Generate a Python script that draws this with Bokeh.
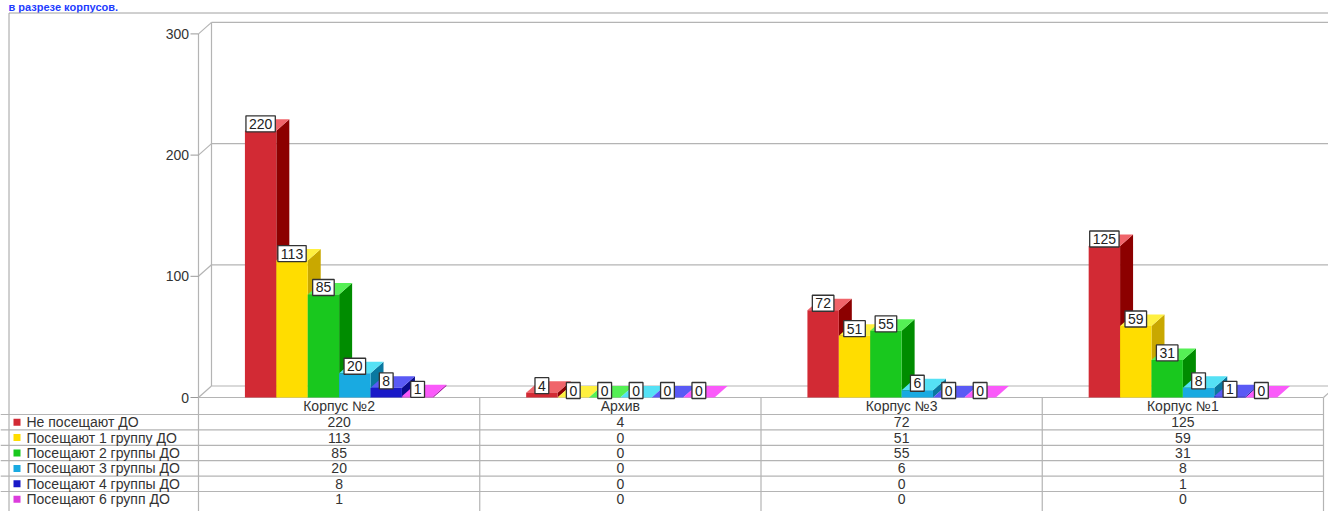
from bokeh.plotting import figure
from bokeh.models import Range1d, ColumnDataSource
from bokeh.embed import file_html
from bokeh.resources import INLINE
from bokeh.core.properties import value

# ---------------- data ----------------
title_text = "в разрезе корпусов."
categories = ["Корпус №2", "Архив", "Корпус №3", "Корпус №1"]
series_names = ["Не посещают ДО", "Посещают 1 группу ДО", "Посещают 2 группы ДО",
                "Посещают 3 группы ДО", "Посещают 4 группы ДО", "Посещают 6 групп ДО"]
not_attending = [220, 4, 72, 125]
one_group = [113, 0, 51, 59]
two_groups = [85, 0, 55, 31]
three_groups = [20, 0, 6, 8]
four_groups = [8, 0, 0, 1]
six_groups = [1, 0, 0, 0]
y_ticks = [0, 100, 200, 300]

front_colors = ["#D22A34", "#FFDD00", "#19C81E", "#19AAE1", "#1919C8", "#DC3CDC"]
side_colors = ["#8C0000", "#C9A800", "#008C00", "#0A78A0", "#0A0A8C", "#9A009A"]
top_colors = ["#F0646A", "#FFF040", "#55F055", "#55E1F5", "#5A5AF5", "#FA5AFA"]

all_series = [not_attending, one_group, two_groups, three_groups, four_groups, six_groups]

# ---------------- geometry ----------------
W, H = 1328, 511
KX = 281.25          # px per category
KY = 1.212           # px per value unit
X0 = 198             # screen x of category boundary 0
Y0 = 397             # screen y (from top) of value 0
PXX = 1.0 / KX
PXY = 1.0 / KY
x_start = -X0 * PXX
x_end = x_start + W * PXX
y_end = Y0 * PXY
y_start = -(H - Y0) * PXY

DX = 13 * PXX
DY = 11.5 * PXY
BW = 31.4 * PXX
ncat = len(categories)
nser = len(series_names)

p = figure(width=W, height=H, output_backend="svg", toolbar_location=None,
           x_range=Range1d(x_start, x_end), y_range=Range1d(y_start, y_end),
           x_axis_type=None, y_axis_type=None, min_border=0)
p.grid.visible = False
p.outline_line_color = None
p.background_fill_color = "white"
p.border_fill_color = "white"

GRID = "#B4B4B4"
TXT = "#333333"
FONT = value("Liberation Sans")

# title at the very top
p.text(x=[x_start + 8 * PXX], y=[y_end - 0.5 * PXY], text=[title_text], text_align="left",
       text_baseline="top", text_font=FONT, text_font_size="11px",
       text_font_style="bold", text_color="#1E3CFF")

# outer border
bx = x_start + 8.5 * PXX
by = y_end - 12.5 * PXY
p.segment(x0=[bx, bx], y0=[by, by], x1=[bx, x_end + 1], y1=[y_start - 1, by],
          line_color="#A0A0A0", line_width=1)

# back wall gridlines
top = y_ticks[-1]
p.segment(x0=[DX] * len(y_ticks), y0=[t + DY for t in y_ticks],
          x1=[x_end + 1] * len(y_ticks), y1=[t + DY for t in y_ticks],
          line_color=GRID, line_width=1.2)
# back wall left edge
p.segment(x0=[DX], y0=[DY], x1=[DX], y1=[top + DY], line_color=GRID, line_width=1.2)
# left wall diagonals
p.segment(x0=[0] * len(y_ticks), y0=y_ticks, x1=[DX] * len(y_ticks),
          y1=[t + DY for t in y_ticks], line_color=GRID, line_width=1.2)
# front axis
p.segment(x0=[0], y0=[0], x1=[0], y1=[top], line_color=GRID, line_width=1.2)
# ticks
p.segment(x0=[-8 * PXX] * len(y_ticks), y0=y_ticks, x1=[0] * len(y_ticks), y1=y_ticks,
          line_color="#999999", line_width=1)
p.text(x=[-9.5 * PXX] * len(y_ticks), y=y_ticks, text=[str(t) for t in y_ticks],
       text_align="right", text_baseline="middle", text_font=FONT,
       text_font_size="14px", text_color=TXT)
# floor front + right diagonal
p.segment(x0=[0, ncat], y0=[0, 0], x1=[ncat, ncat + DX], y1=[0, DY],
          line_color=GRID, line_width=1.2)

# ---------------- bars ----------------
xs, ys, cols = [], [], []
lab_x, lab_y, lab_t = [], [], []
for g in range(ncat):
    for s in range(nser):
        v = all_series[s][g]
        left = g + 0.5 - (nser / 2) * BW + s * BW
        right = left + BW
        # side face
        xs.append([right, right, right + DX, right + DX])
        ys.append([0, v, v + DY, DY])
        cols.append(side_colors[s])
        # top face
        xs.append([left, right, right + DX, left + DX])
        ys.append([v, v, v + DY, v + DY])
        cols.append(top_colors[s])
        # front face
        xs.append([left, right, right, left])
        ys.append([0, 0, v, v])
        cols.append(front_colors[s])
        lab_x.append((left + right) / 2)
        lab_y.append(v + 7 * PXY)
        lab_t.append(str(v))

p.patches(xs="xs", ys="ys", fill_color="cols", line_color=None,
          source=ColumnDataSource(dict(xs=xs, ys=ys, cols=cols)))

p.text(x=lab_x, y=lab_y, text=lab_t, text_align="center", text_baseline="middle",
       text_font=FONT, text_font_size="14px", text_color="#222222",
       background_fill_color="white", border_line_color="#333333", border_line_width=1.3,
       padding=3)

# ---------------- table ----------------
HEAD = 17
ROW = 15.4
row_lines = [-(HEAD + ROW * r) * PXY for r in range(nser)]
p.segment(x0=[x_start] * len(row_lines), y0=row_lines, x1=[ncat] * len(row_lines), y1=row_lines,
          line_color=GRID, line_width=1.2)
p.segment(x0=list(range(ncat + 1)), y0=[0] * (ncat + 1), x1=list(range(ncat + 1)),
          y1=[y_start - 1] * (ncat + 1), line_color=GRID, line_width=1.2)

p.text(x=[g + 0.5 for g in range(ncat)], y=[-(HEAD / 2) * PXY] * ncat, text=categories,
       text_align="center", text_baseline="middle", text_font=FONT,
       text_font_size="14px", text_color=TXT)

cx, cy, ct = [], [], []
for s in range(nser):
    yc = -(HEAD + ROW * s + ROW / 2) * PXY
    for g in range(ncat):
        cx.append(g + 0.5)
        cy.append(yc)
        ct.append(str(all_series[s][g]))
p.text(x=cx, y=cy, text=ct, text_align="center", text_baseline="middle",
       text_font=FONT, text_font_size="14px", text_color=TXT)

leg_y = [-(HEAD + ROW * s + ROW / 2) * PXY for s in range(nser)]
p.scatter(x=[(16.5 - 198) * PXX] * nser, y=leg_y, marker="square", size=7,
          fill_color=front_colors, line_color=None)
p.text(x=[(26 - 198) * PXX] * nser, y=leg_y, text=series_names, text_align="left",
       text_baseline="middle", text_font=FONT, text_font_size="14px", text_color=TXT)

open("out.html", "w").write(file_html(p, INLINE))
